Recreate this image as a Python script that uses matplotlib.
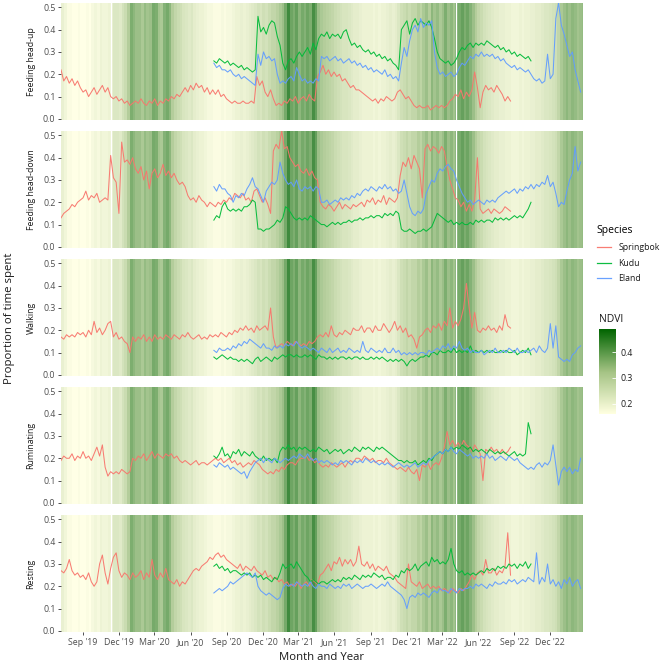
import numpy as np
import pandas as pd
import matplotlib
matplotlib.use("Agg")
import matplotlib.pyplot as plt
import matplotlib.dates as mdates
from matplotlib.colors import LinearSegmentedColormap, Normalize
from matplotlib.cm import ScalarMappable
from matplotlib.lines import Line2D

plt.rcParams['font.family'] = ['Open Sans', 'DejaVu Sans']

# ---------------- data ----------------
behaviours = ["Feeding head-up", "Feeding head-down", "Walking", "Ruminating", "Resting"]
species = ["Springbok", "Kudu", "Eland"]
species_colors = ["#F8766D", "#00BA38", "#619CFF"]

springbok_start = "2019-07-08"
kudu_start = "2020-07-30"
eland_start = "2020-07-30"
ndvi_start = "2019-07-08"
step_days = 7

ndvi = [0.21, 0.19, 0.17, 0.17, 0.16, 0.16, 0.17, 0.16, 0.16, 0.17, 0.16, 0.18,
        0.19, 0.18, 0.20, 0.19, 0.19, 0.20, 0.22, 0.24, 0.24, 0.23, 0.26, 0.28,
        0.33, 0.40, 0.38, 0.36, 0.36, 0.34, 0.37, 0.35, 0.36, 0.41, 0.40, 0.35,
        0.34, 0.39, 0.41, 0.38, 0.33, 0.30, 0.28, 0.27, 0.25, 0.24, 0.23, 0.24,
        0.22, 0.21, 0.20, 0.20, 0.19, 0.18, 0.18, 0.17, 0.17, 0.17, 0.18, 0.17,
        0.18, 0.18, 0.19, 0.20, 0.20, 0.21, 0.20, 0.21, 0.22, 0.23, 0.24, 0.26,
        0.25, 0.27, 0.26, 0.28, 0.30, 0.30, 0.32, 0.34, 0.36, 0.41, 0.48, 0.42,
        0.40, 0.43, 0.38, 0.41, 0.39, 0.42, 0.40, 0.47, 0.43, 0.36, 0.34, 0.33,
        0.32, 0.31, 0.30, 0.28, 0.27, 0.26, 0.25, 0.25, 0.24, 0.23, 0.22, 0.22,
        0.21, 0.20, 0.20, 0.20, 0.20, 0.19, 0.20, 0.19, 0.20, 0.20, 0.21, 0.22,
        0.21, 0.22, 0.24, 0.27, 0.28, 0.30, 0.28, 0.30, 0.30, 0.33, 0.31, 0.34,
        0.36, 0.33, 0.38, 0.35, 0.37, 0.34, 0.36, 0.40, 0.36, 0.38, 0.35, 0.40,
        0.41, 0.43, 0.40, 0.42, 0.39, 0.36, 0.33, 0.30, 0.28, 0.26, 0.25, 0.24,
        0.23, 0.22, 0.22, 0.21, 0.21, 0.20, 0.20, 0.19, 0.19, 0.19, 0.20, 0.19,
        0.20, 0.20, 0.21, 0.21, 0.22, 0.22, 0.23, 0.24, 0.24, 0.25, 0.26, 0.27,
        0.30, 0.34, 0.36, 0.38, 0.36, 0.38, 0.37, 0.35, 0.36, 0.37]
ndvi_missing = ["2019-11-13", "2022-04-05"]

# Feeding head-up
springbok_head_up = [
    0.22, 0.17, 0.19, 0.16, 0.18, 0.15, 0.17, 0.14, 0.12, 0.13, 0.10, 0.12,
    0.14, 0.11, 0.13, 0.15, 0.12, 0.14, 0.10, 0.09, 0.10, 0.08, 0.09, 0.07,
    0.08, 0.06, 0.07, 0.08, 0.07, 0.09, 0.07, 0.06, 0.08, 0.07, 0.09, 0.06,
    0.08, 0.07, 0.09, 0.08, 0.10, 0.09, 0.11, 0.10, 0.12, 0.14, 0.12, 0.15,
    0.13, 0.16, 0.14, 0.15, 0.12, 0.14, 0.11, 0.13, 0.11, 0.13, 0.10, 0.11,
    0.09, 0.08, 0.07, 0.08, 0.07, 0.07, 0.08, 0.07, 0.07, 0.08, 0.07, 0.19,
    0.15, 0.17, 0.12, 0.10, 0.13, 0.09, 0.06, 0.07, 0.06, 0.08, 0.07, 0.09,
    0.08, 0.10, 0.07, 0.09, 0.10, 0.08, 0.11, 0.09, 0.08, 0.19, 0.21, 0.24,
    0.20, 0.22, 0.19, 0.21, 0.19, 0.20, 0.17, 0.18, 0.16, 0.14, 0.15, 0.13,
    0.13, 0.12, 0.11, 0.10, 0.09, 0.08, 0.09, 0.07, 0.09, 0.08, 0.10, 0.09,
    0.08, 0.09, 0.12, 0.13, 0.11, 0.09, 0.10, 0.08, 0.06, 0.05, 0.06, 0.05,
    0.05, 0.06, 0.04, 0.05, 0.06, 0.05, 0.06, 0.05, 0.06, 0.08, 0.09, 0.11,
    0.10, 0.13, 0.09, 0.12, 0.10, 0.13, 0.21, 0.14, 0.05, 0.12, 0.15, 0.13,
    0.14, 0.12, 0.15, 0.13, 0.11, 0.08, 0.10, 0.08]
kudu_head_up = [
    0.26, 0.25, 0.27, 0.26, 0.25, 0.26, 0.24, 0.25, 0.24, 0.23, 0.24, 0.22,
    0.23, 0.22, 0.21, 0.22, 0.46, 0.39, 0.41, 0.38, 0.42, 0.44, 0.43, 0.37,
    0.33, 0.25, 0.22, 0.26, 0.27, 0.25, 0.28, 0.30, 0.28, 0.30, 0.32, 0.29,
    0.34, 0.31, 0.36, 0.38, 0.37, 0.39, 0.36, 0.38, 0.37, 0.38, 0.36, 0.39,
    0.40, 0.36, 0.33, 0.34, 0.32, 0.33, 0.31, 0.30, 0.31, 0.29, 0.30, 0.28,
    0.29, 0.27, 0.28, 0.26, 0.27, 0.25, 0.24, 0.22, 0.40, 0.42, 0.44, 0.38,
    0.43, 0.45, 0.42, 0.44, 0.43, 0.42, 0.44, 0.41, 0.36, 0.30, 0.27, 0.26,
    0.25, 0.26, 0.24, 0.25, 0.27, 0.30, 0.32, 0.31, 0.33, 0.34, 0.32, 0.34,
    0.33, 0.34, 0.33, 0.35, 0.34, 0.33, 0.32, 0.33, 0.31, 0.32, 0.30, 0.31,
    0.29, 0.30, 0.28, 0.29, 0.28, 0.27, 0.28, 0.26]
eland_head_up = [
    0.25, 0.23, 0.24, 0.22, 0.22, 0.21, 0.22, 0.20, 0.19, 0.20, 0.18, 0.19,
    0.18, 0.17, 0.16, 0.15, 0.29, 0.24, 0.30, 0.27, 0.28, 0.26, 0.27, 0.20,
    0.16, 0.17, 0.16, 0.18, 0.19, 0.17, 0.23, 0.20, 0.17, 0.18, 0.16, 0.17,
    0.16, 0.18, 0.17, 0.28, 0.27, 0.28, 0.26, 0.27, 0.28, 0.26, 0.27, 0.25,
    0.26, 0.27, 0.25, 0.26, 0.24, 0.25, 0.23, 0.24, 0.22, 0.23, 0.21, 0.22,
    0.21, 0.20, 0.22, 0.19, 0.20, 0.18, 0.19, 0.17, 0.25, 0.32, 0.28, 0.35,
    0.40, 0.42, 0.39, 0.45, 0.41, 0.43, 0.42, 0.44, 0.30, 0.23, 0.20, 0.21,
    0.19, 0.20, 0.21, 0.19, 0.20, 0.23, 0.25, 0.24, 0.26, 0.28, 0.27, 0.29,
    0.28, 0.30, 0.28, 0.29, 0.28, 0.29, 0.27, 0.28, 0.26, 0.27, 0.25, 0.24,
    0.23, 0.24, 0.22, 0.23, 0.22, 0.21, 0.22, 0.20, 0.18, 0.17, 0.18, 0.16,
    0.17, 0.29, 0.18, 0.20, 0.45, 0.52, 0.42, 0.38, 0.33, 0.28, 0.30, 0.22,
    0.17, 0.12]

# Feeding head-down
springbok_head_down = [
    0.13, 0.15, 0.16, 0.17, 0.19, 0.18, 0.20, 0.21, 0.22, 0.25, 0.21, 0.23,
    0.22, 0.24, 0.20, 0.21, 0.22, 0.21, 0.41, 0.31, 0.29, 0.15, 0.47, 0.38,
    0.39, 0.37, 0.40, 0.35, 0.33, 0.36, 0.30, 0.34, 0.26, 0.33, 0.35, 0.31,
    0.33, 0.37, 0.32, 0.34, 0.31, 0.33, 0.30, 0.28, 0.29, 0.27, 0.23, 0.21,
    0.22, 0.20, 0.23, 0.21, 0.20, 0.18, 0.20, 0.19, 0.18, 0.20, 0.19, 0.21,
    0.20, 0.22, 0.21, 0.24, 0.23, 0.22, 0.24, 0.21, 0.22, 0.20, 0.25, 0.26,
    0.23, 0.20, 0.22, 0.19, 0.15, 0.43, 0.46, 0.44, 0.52, 0.44, 0.45, 0.40,
    0.38, 0.36, 0.37, 0.34, 0.33, 0.35, 0.32, 0.34, 0.31, 0.30, 0.20, 0.18,
    0.17, 0.19, 0.18, 0.16, 0.18, 0.20, 0.17, 0.19, 0.18, 0.17, 0.19, 0.18,
    0.19, 0.20, 0.18, 0.21, 0.20, 0.22, 0.19, 0.21, 0.20, 0.23, 0.19, 0.22,
    0.21, 0.20, 0.22, 0.32, 0.38, 0.36, 0.40, 0.35, 0.41, 0.38, 0.35, 0.22,
    0.44, 0.46, 0.43, 0.45, 0.44, 0.42, 0.45, 0.43, 0.36, 0.30, 0.26, 0.22,
    0.21, 0.18, 0.20, 0.16, 0.19, 0.16, 0.21, 0.40, 0.17, 0.15, 0.16, 0.17,
    0.15, 0.17, 0.16, 0.15, 0.16, 0.18, 0.17, 0.16]
kudu_head_down = [
    0.12, 0.14, 0.13, 0.18, 0.20, 0.17, 0.16, 0.17, 0.16, 0.17, 0.16, 0.18,
    0.18, 0.19, 0.21, 0.20, 0.08, 0.08, 0.07, 0.08, 0.08, 0.09, 0.10, 0.12,
    0.11, 0.13, 0.18, 0.17, 0.15, 0.13, 0.12, 0.13, 0.12, 0.13, 0.12, 0.14,
    0.13, 0.12, 0.11, 0.10, 0.10, 0.09, 0.10, 0.11, 0.10, 0.11, 0.10, 0.11,
    0.11, 0.12, 0.11, 0.12, 0.12, 0.13, 0.12, 0.13, 0.13, 0.14, 0.13, 0.14,
    0.14, 0.13, 0.15, 0.14, 0.15, 0.14, 0.16, 0.15, 0.08, 0.07, 0.07, 0.08,
    0.07, 0.06, 0.07, 0.07, 0.08, 0.07, 0.08, 0.09, 0.12, 0.15, 0.14, 0.13,
    0.12, 0.11, 0.12, 0.10, 0.11, 0.10, 0.11, 0.10, 0.10, 0.11, 0.10, 0.12,
    0.11, 0.12, 0.11, 0.12, 0.12, 0.11, 0.13, 0.12, 0.13, 0.12, 0.13, 0.12,
    0.13, 0.14, 0.13, 0.14, 0.13, 0.15, 0.17, 0.20]
eland_head_down = [
    0.27, 0.25, 0.28, 0.26, 0.26, 0.24, 0.23, 0.20, 0.23, 0.22, 0.24, 0.23,
    0.26, 0.28, 0.31, 0.27, 0.26, 0.23, 0.20, 0.25, 0.27, 0.29, 0.28, 0.30,
    0.38, 0.33, 0.30, 0.28, 0.29, 0.27, 0.30, 0.26, 0.25, 0.27, 0.26, 0.27,
    0.25, 0.27, 0.26, 0.20, 0.20, 0.21, 0.19, 0.20, 0.21, 0.20, 0.22, 0.21,
    0.22, 0.21, 0.23, 0.22, 0.24, 0.23, 0.25, 0.26, 0.25, 0.27, 0.26, 0.25,
    0.27, 0.26, 0.28, 0.26, 0.27, 0.25, 0.26, 0.24, 0.25, 0.30, 0.24, 0.18,
    0.15, 0.14, 0.16, 0.15, 0.17, 0.24, 0.27, 0.30, 0.29, 0.33, 0.35, 0.34,
    0.36, 0.37, 0.35, 0.34, 0.30, 0.27, 0.24, 0.22, 0.20, 0.21, 0.19, 0.20,
    0.21, 0.20, 0.19, 0.21, 0.20, 0.21, 0.20, 0.22, 0.23, 0.24, 0.25, 0.24,
    0.25, 0.26, 0.24, 0.26, 0.25, 0.27, 0.26, 0.28, 0.26, 0.28, 0.27, 0.29,
    0.28, 0.32, 0.27, 0.29, 0.24, 0.18, 0.20, 0.19, 0.25, 0.30, 0.33, 0.45,
    0.34, 0.38]

# Walking
springbok_walking = [
    0.17, 0.16, 0.18, 0.17, 0.18, 0.17, 0.19, 0.18, 0.19, 0.17, 0.20, 0.18,
    0.24, 0.19, 0.21, 0.18, 0.20, 0.23, 0.24, 0.17, 0.19, 0.16, 0.17, 0.15,
    0.14, 0.10, 0.17, 0.15, 0.17, 0.16, 0.18, 0.15, 0.17, 0.15, 0.18, 0.16,
    0.17, 0.16, 0.18, 0.17, 0.16, 0.18, 0.17, 0.16, 0.18, 0.17, 0.19, 0.17,
    0.16, 0.17, 0.18, 0.16, 0.17, 0.16, 0.18, 0.17, 0.18, 0.17, 0.19, 0.18,
    0.17, 0.19, 0.18, 0.20, 0.19, 0.21, 0.20, 0.22, 0.20, 0.21, 0.19, 0.22,
    0.20, 0.21, 0.22, 0.20, 0.30, 0.17, 0.12, 0.13, 0.14, 0.13, 0.15, 0.14,
    0.13, 0.15, 0.14, 0.13, 0.14, 0.13, 0.15, 0.14, 0.15, 0.17, 0.18, 0.17,
    0.19, 0.17, 0.22, 0.18, 0.17, 0.19, 0.18, 0.20, 0.19, 0.18, 0.21, 0.20,
    0.20, 0.22, 0.19, 0.21, 0.21, 0.19, 0.22, 0.20, 0.20, 0.23, 0.21, 0.19,
    0.21, 0.24, 0.20, 0.22, 0.19, 0.21, 0.17, 0.18, 0.16, 0.12, 0.17, 0.18,
    0.20, 0.21, 0.19, 0.22, 0.21, 0.23, 0.20, 0.24, 0.22, 0.30, 0.21, 0.24,
    0.22, 0.25, 0.30, 0.41, 0.30, 0.21, 0.28, 0.20, 0.19, 0.21, 0.20, 0.22,
    0.20, 0.21, 0.19, 0.22, 0.20, 0.27, 0.22, 0.21]
kudu_walking = [
    0.08, 0.07, 0.08, 0.09, 0.08, 0.07, 0.08, 0.07, 0.07, 0.06, 0.07, 0.06,
    0.07, 0.06, 0.05, 0.07, 0.08, 0.06, 0.07, 0.08, 0.07, 0.06, 0.08, 0.07,
    0.08, 0.09, 0.08, 0.09, 0.09, 0.08, 0.09, 0.08, 0.08, 0.09, 0.08, 0.09,
    0.08, 0.07, 0.09, 0.08, 0.08, 0.07, 0.08, 0.07, 0.08, 0.07, 0.08, 0.08,
    0.07, 0.08, 0.07, 0.08, 0.08, 0.07, 0.08, 0.07, 0.07, 0.08, 0.07, 0.08,
    0.07, 0.08, 0.07, 0.06, 0.07, 0.06, 0.07, 0.06, 0.07, 0.06, 0.04, 0.06,
    0.07, 0.06, 0.07, 0.08, 0.08, 0.09, 0.08, 0.10, 0.10, 0.09, 0.11, 0.10,
    0.10, 0.11, 0.10, 0.12, 0.10, 0.11, 0.10, 0.11, 0.10, 0.13, 0.10, 0.11,
    0.10, 0.11, 0.10, 0.11, 0.10, 0.11, 0.10, 0.10, 0.11, 0.10, 0.11, 0.10,
    0.10, 0.11, 0.09, 0.10, 0.11, 0.10, 0.12, 0.09]
eland_walking = [
    0.11, 0.10, 0.12, 0.11, 0.11, 0.12, 0.11, 0.13, 0.12, 0.14, 0.13, 0.15,
    0.14, 0.16, 0.15, 0.14, 0.13, 0.12, 0.14, 0.12, 0.12, 0.11, 0.13, 0.12,
    0.13, 0.12, 0.14, 0.13, 0.14, 0.13, 0.15, 0.13, 0.12, 0.13, 0.12, 0.11,
    0.12, 0.11, 0.10, 0.12, 0.11, 0.10, 0.12, 0.10, 0.11, 0.12, 0.10, 0.11,
    0.10, 0.12, 0.11, 0.10, 0.11, 0.10, 0.15, 0.11, 0.10, 0.12, 0.11, 0.10,
    0.11, 0.10, 0.12, 0.10, 0.10, 0.12, 0.10, 0.11, 0.09, 0.10, 0.09, 0.10,
    0.09, 0.10, 0.09, 0.10, 0.10, 0.09, 0.11, 0.10, 0.11, 0.12, 0.11, 0.13,
    0.12, 0.14, 0.11, 0.13, 0.12, 0.15, 0.12, 0.11, 0.12, 0.10, 0.11, 0.10,
    0.10, 0.11, 0.09, 0.10, 0.11, 0.10, 0.12, 0.10, 0.10, 0.11, 0.10, 0.12,
    0.11, 0.10, 0.12, 0.10, 0.10, 0.11, 0.10, 0.11, 0.12, 0.10, 0.13, 0.11,
    0.10, 0.12, 0.23, 0.12, 0.22, 0.08, 0.07, 0.06, 0.07, 0.06, 0.09, 0.10,
    0.12, 0.13]

# Ruminating
springbok_ruminating = [
    0.19, 0.21, 0.20, 0.20, 0.22, 0.19, 0.21, 0.20, 0.23, 0.20, 0.21, 0.19,
    0.22, 0.25, 0.21, 0.26, 0.16, 0.12, 0.14, 0.13, 0.14, 0.13, 0.15, 0.14,
    0.13, 0.14, 0.20, 0.19, 0.21, 0.20, 0.22, 0.19, 0.21, 0.23, 0.20, 0.22,
    0.21, 0.20, 0.22, 0.21, 0.22, 0.20, 0.21, 0.19, 0.18, 0.19, 0.18, 0.17,
    0.18, 0.19, 0.17, 0.18, 0.18, 0.17, 0.18, 0.19, 0.20, 0.19, 0.20, 0.18,
    0.19, 0.20, 0.18, 0.19, 0.17, 0.18, 0.16, 0.17, 0.18, 0.17, 0.19, 0.18,
    0.17, 0.15, 0.14, 0.13, 0.14, 0.13, 0.15, 0.14, 0.16, 0.15, 0.17, 0.18,
    0.18, 0.17, 0.19, 0.20, 0.20, 0.21, 0.19, 0.20, 0.18, 0.19, 0.17, 0.16,
    0.17, 0.16, 0.18, 0.17, 0.16, 0.17, 0.18, 0.16, 0.18, 0.19, 0.18, 0.20,
    0.20, 0.19, 0.21, 0.20, 0.19, 0.20, 0.18, 0.19, 0.19, 0.18, 0.20, 0.18,
    0.17, 0.16, 0.15, 0.16, 0.15, 0.14, 0.16, 0.14, 0.13, 0.15, 0.10, 0.17,
    0.16, 0.18, 0.15, 0.17, 0.18, 0.17, 0.20, 0.25, 0.32, 0.26, 0.28, 0.25,
    0.27, 0.25, 0.28, 0.26, 0.25, 0.23, 0.26, 0.24, 0.22, 0.10, 0.24, 0.23,
    0.25, 0.23, 0.24, 0.22, 0.24, 0.22, 0.23, 0.25]
kudu_ruminating = [
    0.21, 0.20, 0.22, 0.25, 0.21, 0.22, 0.20, 0.23, 0.22, 0.24, 0.21, 0.23,
    0.22, 0.21, 0.23, 0.21, 0.20, 0.19, 0.21, 0.19, 0.20, 0.19, 0.20, 0.18,
    0.23, 0.25, 0.24, 0.26, 0.24, 0.25, 0.23, 0.25, 0.24, 0.25, 0.24, 0.23,
    0.24, 0.23, 0.25, 0.24, 0.23, 0.24, 0.22, 0.23, 0.24, 0.23, 0.24, 0.22,
    0.23, 0.24, 0.23, 0.25, 0.24, 0.23, 0.25, 0.24, 0.25, 0.24, 0.23, 0.25,
    0.24, 0.25, 0.24, 0.23, 0.22, 0.21, 0.20, 0.19, 0.19, 0.18, 0.19, 0.18,
    0.18, 0.19, 0.17, 0.18, 0.19, 0.18, 0.20, 0.19, 0.21, 0.22, 0.23, 0.22,
    0.24, 0.23, 0.25, 0.24, 0.25, 0.24, 0.26, 0.25, 0.24, 0.25, 0.23, 0.24,
    0.23, 0.24, 0.23, 0.22, 0.24, 0.23, 0.22, 0.23, 0.22, 0.23, 0.22, 0.21,
    0.22, 0.23, 0.21, 0.22, 0.21, 0.22, 0.36, 0.31]
eland_ruminating = [
    0.17, 0.16, 0.18, 0.17, 0.16, 0.17, 0.15, 0.16, 0.15, 0.14, 0.13, 0.14,
    0.11, 0.14, 0.16, 0.18, 0.19, 0.20, 0.18, 0.20, 0.19, 0.18, 0.20, 0.19,
    0.18, 0.19, 0.20, 0.19, 0.20, 0.21, 0.20, 0.22, 0.21, 0.20, 0.22, 0.20,
    0.19, 0.20, 0.18, 0.19, 0.18, 0.19, 0.18, 0.17, 0.18, 0.17, 0.19, 0.18,
    0.19, 0.18, 0.17, 0.19, 0.18, 0.19, 0.18, 0.20, 0.19, 0.18, 0.19, 0.18,
    0.17, 0.18, 0.17, 0.18, 0.17, 0.16, 0.17, 0.18, 0.17, 0.16, 0.17, 0.16,
    0.17, 0.18, 0.16, 0.17, 0.18, 0.17, 0.19, 0.20, 0.21, 0.22, 0.23, 0.22,
    0.24, 0.23, 0.25, 0.23, 0.22, 0.24, 0.23, 0.22, 0.21, 0.22, 0.20, 0.21,
    0.20, 0.21, 0.20, 0.22, 0.20, 0.21, 0.19, 0.20, 0.21, 0.20, 0.19, 0.21,
    0.20, 0.19, 0.20, 0.18, 0.17, 0.16, 0.15, 0.16, 0.15, 0.17, 0.18, 0.16,
    0.18, 0.17, 0.19, 0.26, 0.17, 0.08, 0.14, 0.16, 0.14, 0.16, 0.13, 0.15,
    0.14, 0.20]

# Resting
springbok_resting = [
    0.27, 0.26, 0.28, 0.32, 0.27, 0.25, 0.26, 0.24, 0.25, 0.23, 0.26, 0.22,
    0.20, 0.22, 0.30, 0.34, 0.26, 0.21, 0.28, 0.33, 0.35, 0.27, 0.24, 0.26,
    0.25, 0.23, 0.26, 0.24, 0.25, 0.27, 0.23, 0.26, 0.24, 0.32, 0.25, 0.23,
    0.26, 0.24, 0.28, 0.23, 0.22, 0.21, 0.23, 0.20, 0.22, 0.21, 0.23, 0.25,
    0.27, 0.28, 0.27, 0.29, 0.30, 0.31, 0.33, 0.32, 0.34, 0.35, 0.33, 0.34,
    0.32, 0.31, 0.30, 0.29, 0.28, 0.30, 0.27, 0.29, 0.28, 0.27, 0.29, 0.27,
    0.26, 0.25, 0.27, 0.24, 0.25, 0.23, 0.24, 0.22, 0.23, 0.21, 0.22, 0.20,
    0.21, 0.20, 0.22, 0.19, 0.21, 0.22, 0.20, 0.23, 0.22, 0.21, 0.25, 0.26,
    0.28, 0.30, 0.27, 0.31, 0.30, 0.33, 0.29, 0.32, 0.30, 0.32, 0.29, 0.31,
    0.38, 0.30, 0.29, 0.31, 0.28, 0.30, 0.27, 0.29, 0.28, 0.27, 0.29, 0.26,
    0.25, 0.24, 0.22, 0.21, 0.20, 0.19, 0.30, 0.22, 0.21, 0.20, 0.22, 0.19,
    0.20, 0.21, 0.19, 0.20, 0.19, 0.20, 0.18, 0.19, 0.18, 0.17, 0.19, 0.18,
    0.17, 0.19, 0.18, 0.20, 0.22, 0.25, 0.23, 0.26, 0.27, 0.25, 0.32, 0.26,
    0.26, 0.28, 0.25, 0.27, 0.26, 0.29, 0.44, 0.25]
kudu_resting = [
    0.29, 0.30, 0.28, 0.29, 0.27, 0.28, 0.26, 0.27, 0.27, 0.26, 0.25, 0.26,
    0.25, 0.26, 0.24, 0.25, 0.24, 0.25, 0.23, 0.24, 0.23, 0.22, 0.24, 0.23,
    0.26, 0.30, 0.28, 0.29, 0.30, 0.28, 0.31, 0.29, 0.27, 0.25, 0.24, 0.22,
    0.23, 0.22, 0.21, 0.22, 0.22, 0.21, 0.22, 0.23, 0.22, 0.23, 0.22, 0.24,
    0.23, 0.24, 0.23, 0.25, 0.24, 0.23, 0.25, 0.24, 0.25, 0.24, 0.26, 0.25,
    0.24, 0.25, 0.23, 0.24, 0.24, 0.23, 0.25, 0.24, 0.27, 0.26, 0.28, 0.27,
    0.28, 0.30, 0.27, 0.29, 0.30, 0.31, 0.29, 0.33, 0.31, 0.32, 0.30, 0.31,
    0.30, 0.32, 0.37, 0.30, 0.27, 0.26, 0.27, 0.25, 0.26, 0.25, 0.26, 0.25,
    0.26, 0.27, 0.26, 0.28, 0.27, 0.28, 0.27, 0.29, 0.28, 0.29, 0.28, 0.30,
    0.29, 0.30, 0.28, 0.30, 0.29, 0.31, 0.28, 0.30]
eland_resting = [
    0.17, 0.18, 0.19, 0.18, 0.19, 0.20, 0.22, 0.21, 0.22, 0.23, 0.24, 0.25,
    0.26, 0.25, 0.24, 0.26, 0.20, 0.18, 0.17, 0.16, 0.17, 0.16, 0.15, 0.14,
    0.15, 0.19, 0.21, 0.20, 0.21, 0.20, 0.22, 0.21, 0.20, 0.21, 0.20, 0.22,
    0.20, 0.19, 0.21, 0.20, 0.20, 0.19, 0.21, 0.20, 0.19, 0.20, 0.19, 0.21,
    0.20, 0.21, 0.19, 0.20, 0.21, 0.20, 0.19, 0.20, 0.20, 0.21, 0.20, 0.19,
    0.20, 0.21, 0.20, 0.22, 0.20, 0.19, 0.18, 0.17, 0.16, 0.14, 0.10, 0.15,
    0.16, 0.15, 0.17, 0.16, 0.17, 0.16, 0.15, 0.17, 0.18, 0.17, 0.19, 0.18,
    0.18, 0.17, 0.19, 0.18, 0.17, 0.19, 0.18, 0.19, 0.19, 0.20, 0.19, 0.21,
    0.20, 0.21, 0.20, 0.19, 0.21, 0.20, 0.22, 0.21, 0.21, 0.22, 0.21, 0.23,
    0.22, 0.23, 0.21, 0.22, 0.23, 0.22, 0.24, 0.23, 0.22, 0.35, 0.21, 0.24,
    0.22, 0.30, 0.21, 0.23, 0.20, 0.22, 0.19, 0.23, 0.21, 0.24, 0.20, 0.22,
    0.23, 0.19]

series_by_behaviour = [
    [springbok_head_up, kudu_head_up, eland_head_up],
    [springbok_head_down, kudu_head_down, eland_head_down],
    [springbok_walking, kudu_walking, eland_walking],
    [springbok_ruminating, kudu_ruminating, eland_ruminating],
    [springbok_resting, kudu_resting, eland_resting],
]
series_starts = [springbok_start, kudu_start, eland_start]

x_tick_dates = pd.date_range("2019-09-01", "2022-12-01", freq="3MS")
y_ticks = [0.0, 0.1, 0.2, 0.3, 0.4, 0.5]
ndvi_ticks = [0.2, 0.3, 0.4]

# ---------------- figure ----------------
W_PX, H_PX = 669, 671
fig = plt.figure(figsize=(W_PX / 100, H_PX / 100), dpi=100)

cmap = LinearSegmentedColormap.from_list("ndvi", ["#FFFFE0", "#A3C283", "#006400"])
norm = Normalize(vmin=0.16, vmax=0.49)

ndvi_dates = pd.date_range(ndvi_start, periods=len(ndvi) + 1, freq=f"{step_days}D")
ndvi_edges = mdates.date2num(ndvi_dates)
xlim = (mdates.date2num(pd.Timestamp("2019-07-08")), mdates.date2num(pd.Timestamp("2023-02-22")))
ylim = (-0.006, 0.521)

left_px, right_px = 61, 583
panel_h = 117.5
tick_color = "#333333"
label_color = "#4D4D4D"

for i, beh in enumerate(behaviours):
    top_px = 2.7 + 128 * i
    ax = fig.add_axes([left_px / W_PX, 1 - (top_px + panel_h) / H_PX,
                       (right_px - left_px) / W_PX, panel_h / H_PX])
    ax.pcolormesh(ndvi_edges, np.array(ylim), np.array(ndvi)[None, :],
                  cmap=cmap, norm=norm, shading="flat", alpha=0.78,
                  edgecolors="none", rasterized=True)
    for d in ndvi_missing:
        ax.axvline(mdates.date2num(pd.Timestamp(d)), color="white", lw=0.9)
    for vals, start, col in zip(series_by_behaviour[i], series_starts, species_colors):
        dates = pd.date_range(start, periods=len(vals), freq=f"{step_days}D")
        ax.plot(mdates.date2num(dates), vals, color=col, lw=0.75, alpha=0.95)
    ax.set_xlim(xlim)
    ax.set_ylim(ylim)
    for s in ax.spines.values():
        s.set_visible(False)
    ax.set_yticks(y_ticks)
    ax.set_yticklabels([f"{t:.1f}" for t in y_ticks])
    ax.tick_params(axis="y", length=2.5, width=0.6, color=tick_color,
                   labelsize=6.3, labelcolor=label_color, pad=1.5)
    ax.set_xticks(mdates.date2num(x_tick_dates))
    if i == len(behaviours) - 1:
        ax.set_xticklabels([d.strftime("%b '%y") for d in x_tick_dates])
        ax.tick_params(axis="x", length=2.5, width=0.6, color=tick_color,
                       labelsize=6.3, labelcolor=label_color, pad=2)
    else:
        ax.tick_params(axis="x", length=0, labelbottom=False)
    fig.text(31 / W_PX, 1 - (top_px + panel_h / 2) / H_PX, beh, rotation=90,
             ha="center", va="center", fontsize=6.3, color="#1A1A1A")

fig.text(10 / W_PX, 1 - 318 / H_PX, "Proportion of time spent", rotation=90,
         ha="center", va="center", fontsize=8.2, color="#1A1A1A")
fig.text(322 / W_PX, 1 - 657 / H_PX, "Month and Year", ha="center", va="center",
         fontsize=8.2, color="#1A1A1A")

# species legend
handles = [Line2D([0], [0], color=c, lw=0.9, alpha=0.95) for c in species_colors]
leg = fig.legend(handles, species, loc="upper left",
                 bbox_to_anchor=(593 / W_PX, 1 - 222 / H_PX), frameon=False,
                 title="Species", fontsize=6.3, title_fontsize=7.5,
                 handlelength=1.7, handletextpad=0.8, labelspacing=0.75,
                 borderaxespad=0, alignment="left")
for t in leg.get_texts():
    t.set_color("#1A1A1A")

# NDVI colorbar
fig.text(599 / W_PX, 1 - 320 / H_PX, "NDVI", fontsize=7.5, va="center", color="#1A1A1A")
cax = fig.add_axes([599 / W_PX, 1 - 414 / H_PX, 17 / W_PX, 85 / H_PX])
cb = fig.colorbar(ScalarMappable(norm=norm, cmap=cmap), cax=cax)
cb.outline.set_visible(False)
cb.set_ticks(ndvi_ticks)
cb.set_ticklabels([f"{t:.1f}" for t in ndvi_ticks])
cax.tick_params(length=3, width=0.6, color="white", direction="in",
                labelsize=6.3, labelcolor="#1A1A1A", pad=3)

fig.savefig("out.png", dpi=100)
